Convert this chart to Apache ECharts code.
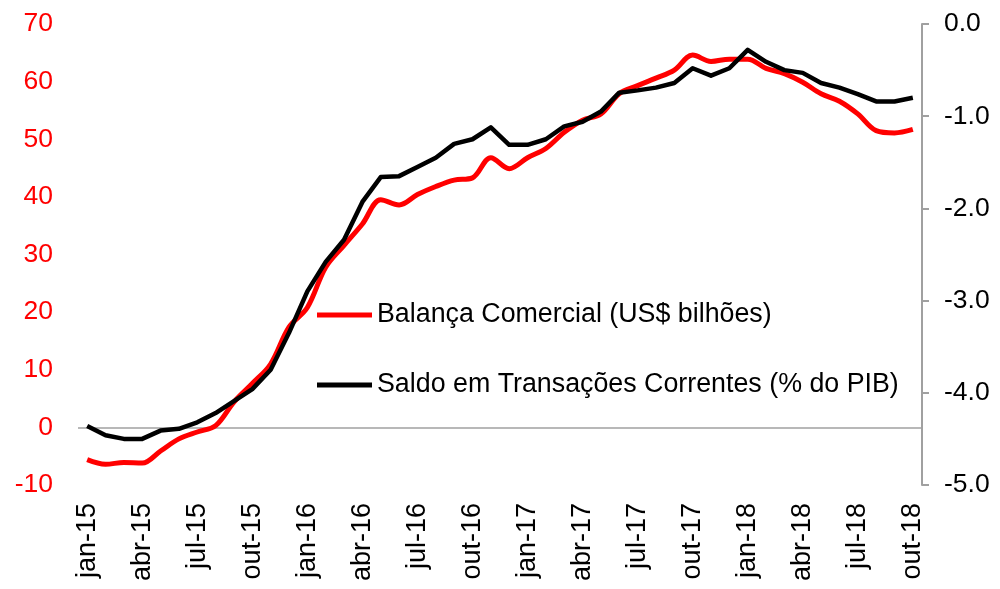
<!DOCTYPE html>
<html>
<head>
<meta charset="utf-8">
<script src="https://cdn.jsdelivr.net/npm/echarts@6/dist/echarts.min.js"></script>
<style>
html,body{margin:0;padding:0;background:#fff;}
#chart{width:1000px;height:589px;}
</style>
</head>
<body>
<div id="chart"></div>
<script>
var categories = [
  'jan-15','fev-15','mar-15','abr-15','mai-15','jun-15','jul-15','ago-15','set-15','out-15','nov-15','dez-15',
  'jan-16','fev-16','mar-16','abr-16','mai-16','jun-16','jul-16','ago-16','set-16','out-16','nov-16','dez-16',
  'jan-17','fev-17','mar-17','abr-17','mai-17','jun-17','jul-17','ago-17','set-17','out-17','nov-17','dez-17',
  'jan-18','fev-18','mar-18','abr-18','mai-18','jun-18','jul-18','ago-18','set-18','out-18'
];
var balancaComercial = [
  -5.6,-6.4,-6.1,-6.2,-4.1,-2.0,-0.8,0.3,4.4,7.6,11.0,17.4,
  20.8,27.8,31.6,35.3,39.5,38.6,40.4,41.8,42.9,43.3,46.8,44.9,
  46.8,48.4,51.2,53.3,54.4,57.9,59.3,60.6,62.0,64.6,63.5,63.9,
  63.9,62.3,61.4,59.9,57.9,56.6,54.4,51.5,51.1,51.7
];
var saldoTransacoes = [
  -4.36,-4.46,-4.50,-4.50,-4.41,-4.39,-4.32,-4.22,-4.09,-3.96,-3.75,-3.35,
  -2.90,-2.58,-2.34,-1.93,-1.66,-1.65,-1.55,-1.45,-1.30,-1.25,-1.12,-1.31,
  -1.31,-1.25,-1.11,-1.06,-0.95,-0.745,-0.72,-0.69,-0.64,-0.48,-0.56,-0.48,
  -0.28,-0.41,-0.50,-0.53,-0.64,-0.69,-0.76,-0.84,-0.84,-0.80
];
var seriesNames = ['Balança Comercial (US$ bilhões)', 'Saldo em Transações Correntes (% do PIB)'];
var leftTicks = {min: -10, max: 70, interval: 10};
var rightTicks = {min: -5, max: 0, interval: 1};

var FONT = "'Liberation Sans', Arial, sans-serif";
var chart = echarts.init(document.getElementById('chart'), null, {renderer: 'canvas'});
chart.setOption({
  animation: false,
  backgroundColor: '#ffffff',
  grid: {left: 78, right: 78, top: 24, bottom: 104, containLabel: false},
  legend: {
    orient: 'vertical',
    left: 312,
    top: 295,
    itemWidth: 55,
    itemHeight: 5,
    itemGap: 40,
    icon: 'rect',
    textStyle: {fontFamily: FONT, fontSize: 26.8, color: '#000', lineHeight: 30},
    data: seriesNames
  },
  xAxis: {
    type: 'category',
    data: categories,
    boundaryGap: true,
    axisLine: {show: false},
    axisTick: {show: false},
    axisLabel: {
      interval: 2,
      rotate: 90,
      margin: 18,
      fontFamily: FONT,
      fontSize: 27,
      color: '#000'
    },
    splitLine: {show: false}
  },
  yAxis: [
    {
      type: 'value',
      position: 'left',
      min: leftTicks.min, max: leftTicks.max, interval: leftTicks.interval,
      axisLine: {show: false},
      axisTick: {show: false},
      splitLine: {show: false},
      axisLabel: {margin: 25, fontFamily: FONT, fontSize: 26.5, color: '#ff0000'}
    },
    {
      type: 'value',
      position: 'right',
      min: rightTicks.min, max: rightTicks.max, interval: rightTicks.interval,
      axisLine: {show: true, lineStyle: {color: '#a0a0a0', width: 2}},
      axisTick: {show: true, inside: false, length: 7, lineStyle: {color: '#a0a0a0', width: 2}},
      splitLine: {show: false},
      axisLabel: {
        margin: 22, fontFamily: FONT, fontSize: 26.5, color: '#000',
        formatter: function (v) { return v.toFixed(1); }
      }
    }
  ],
  series: [
    {
      name: seriesNames[0],
      type: 'line',
      yAxisIndex: 0,
      data: balancaComercial,
      smooth: 0.35,
      symbol: 'none',
      lineStyle: {color: '#ff0000', width: 5},
      itemStyle: {color: '#ff0000'},
      z: 3,
      markLine: {
        silent: true,
        symbol: 'none',
        label: {show: false},
        lineStyle: {color: '#a0a0a0', width: 1.5, type: 'solid'},
        data: [{yAxis: 0}],
        z: 1
      }
    },
    {
      name: seriesNames[1],
      type: 'line',
      yAxisIndex: 1,
      data: saldoTransacoes,
      smooth: false,
      symbol: 'none',
      lineStyle: {color: '#000000', width: 4.5, join: 'round'},
      itemStyle: {color: '#000000'},
      z: 4
    }
  ]
});
</script>
</body>
</html>
